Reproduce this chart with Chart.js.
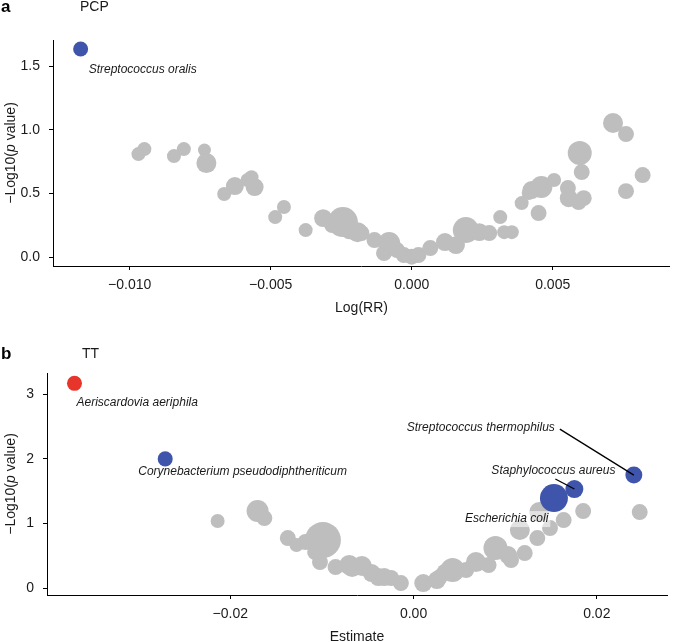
<!DOCTYPE html>
<html><head><meta charset="utf-8">
<script src="https://cdn.jsdelivr.net/npm/chart.js@4"></script>
<style>
html,body{margin:0;padding:0;background:#fff;}
#wrap{position:relative;width:685px;height:642px;background:#fff;}
canvas{position:absolute;left:0;top:0;}
</style>
</head><body>
<div id="wrap"><canvas id="c1" width="685" height="642"></canvas><canvas id="c2" width="685" height="642"></canvas></div>
<script>
// ---------- Panel a: PCP ----------
const pcpLogRR = [-0.00969,-0.00948,-0.00843,-0.00808,-0.00735,-0.00728,-0.00665,-0.00627,-0.00582,-0.00568,
  -0.00557,-0.00484,-0.00453,-0.00376,-0.00314,-0.00282,-0.00244,-0.0022,-0.00192,-0.00178,
  -0.00132,-0.0008,-0.00098,-0.00052,-0.00028,0.0,0.00024,0.00066,0.00118,0.00157,
  0.00192,0.0024,0.00275,0.00314,0.00328,0.00355,0.0039,0.00415,0.0045,0.00425,
  0.0046,0.00505,0.00554,0.00557,0.00592,0.0061,0.00596,0.00603,0.00714,0.0076,0.0076,0.00819];
const pcpNegLogP = [0.809,0.848,0.793,0.848,0.841,0.738,0.495,0.558,0.605,0.628,
  0.550,0.314,0.393,0.212,0.306,0.251,0.275,0.21,0.196,0.189,
  0.134,0.110,0.031,0.055,0.016,0.003,0.016,0.071,0.118,0.094,
  0.212,0.196,0.189,0.314,0.196,0.196,0.424,0.503,0.346,0.526,
  0.550,0.605,0.542,0.463,0.432,0.463,0.817,0.668,1.053,0.966,0.518,0.644];
const pcpAbundance = [1.0,1.0,1.0,1.0,0.86,2.04,1.0,1.65,1.0,1.0,
  1.65,1.0,1.0,1.0,1.65,1.3,4.6,1.65,2.04,1.3,
  1.3,2.47,1.3,1.3,1.3,1.3,1.3,1.3,1.65,1.65,
  3.45,1.65,1.3,1.0,1.0,1.0,1.0,1.0,1.3,1.65,
  2.47,1.0,1.3,1.65,1.3,1.3,2.94,1.3,2.04,1.3,1.3,1.3];
const pcpSigSpecies = ['Streptococcus oralis'];
const pcpSigLogRR = [-0.01174];
const pcpSigNegLogP = [1.634];
const pcpSigAbundance = [1.15];
const pcpSigStatus = ['nominal'];
const pcpXTicks = [-0.010,-0.005,0.000,0.005];
const pcpYTicks = [0.0,0.5,1.0,1.5];

// ---------- Panel b: TT ----------
const ttEstimate = [-0.02138,-0.01702,-0.01628,-0.01372,-0.01277,-0.01181,-0.00989,-0.01074,-0.01021,-0.00851,
  -0.00702,-0.0067,-0.00564,-0.00457,-0.00383,-0.00319,-0.00245,-0.00138,0.00106,0.00255,
  0.00287,0.0034,0.00426,0.00574,0.00681,0.00819,0.00894,0.01032,0.01064,0.01213,
  0.0116,0.01351,0.01372,0.01489,0.01638,0.01851,0.02468];
const ttNegLogP = [1.037,1.192,1.084,0.774,0.666,0.712,0.743,0.557,0.402,0.325,
  0.356,0.325,0.341,0.232,0.170,0.170,0.155,0.077,0.077,0.124,
  0.170,0.248,0.279,0.279,0.402,0.356,0.619,0.511,0.433,0.542,
  0.898,0.774,1.176,0.929,1.053,1.192,1.176];
const ttAbundance = [1.0,2.47,1.3,1.3,1.0,1.3,6.6,1.3,1.3,1.3,
  2.04,2.04,2.04,1.65,1.65,1.65,1.3,1.3,1.65,1.65,
  1.3,1.3,2.94,1.3,2.04,1.3,2.94,1.65,1.3,1.3,
  2.04,1.3,2.04,1.3,1.3,1.3,1.3];
const ttSigSpecies = ['Aeriscardovia aeriphila','Corynebacterium pseudodiphtheriticum','Streptococcus thermophilus','Staphylococcus aureus','Escherichia coli'];
const ttSigEstimate = [-0.0370,-0.0271,0.02404,0.01755,0.01532];
const ttSigNegLogP = [3.17,2.0,1.749,1.533,1.393];
const ttSigAbundance = [1.15,1.15,1.47,1.65,4.0];
const ttSigStatus = ['fdr','nominal','nominal','nominal','nominal'];
const ttXTicks = [-0.02,0.00,0.02];
const ttYTicks = [0,1,2,3];

// ---------- styles / layout ----------
const FONT = '"Liberation Sans", Arial, Helvetica, sans-serif';
const GREY = '#BEBEBE';
const STATUS_COLOR = {nominal:'#3F55AC', fdr:'#E8352B'};
const TEXT = '#1a1a1a';
const radiusOf = a => 7*Math.sqrt(a);
const minus = s => s.replace('-', '\u2212');

// label placement (pixel offsets from the point)
const labelLayout = {
  'Streptococcus oralis': {dx:8, dy:21, align:'left'},
  'Aeriscardovia aeriphila': {dx:2, dy:19, align:'left'},
  'Corynebacterium pseudodiphtheriticum': {dx:-27, dy:13, align:'left'},
  'Streptococcus thermophilus': {dx:-79, dy:-47, align:'right', line:[-74,-46]},
  'Staphylococcus aureus': {dx:-83, dy:-18, align:'left', line:[-19,-10]},
  'Escherichia coli': {dx:-89, dy:21, align:'left', bg:true}
};

function bubbles(xs, ys, sizes){ return xs.map((x,i)=>({x:x, y:ys[i], r:radiusOf(sizes[i])})); }

function axis(min, max, ticks, fmt, fixed, isX){
  return {
    type:'linear', min:min, max:max,
    afterBuildTicks: s => { s.ticks = ticks.map(v=>({value:v})); },
    afterFit: s => { if(isX) s.height = fixed; else s.width = fixed; },
    ticks:{ callback: v => fmt(v), font:{family:FONT, size:14}, color:TEXT, padding: isX?7:9, autoSkip:false, maxRotation:0 },
    grid:{ display:true, drawOnChartArea:false, drawTicks:true, tickLength:4, color:'#000', lineWidth:1 },
    border:{ display:true, color:'#000', width:1 },
    title:{ display:false }
  };
}

function drawYTitle(ctx, x, cy){
  const parts = [['\u2212Log10(', ''], ['p', 'italic '], [' value)', '']];
  ctx.save();
  ctx.translate(x, cy); ctx.rotate(-Math.PI/2);
  let total = 0;
  parts.forEach(p=>{ ctx.font = p[1]+'14px '+FONT; total += ctx.measureText(p[0]).width; });
  let cx = -total/2;
  ctx.fillStyle = TEXT; ctx.textBaseline = 'middle'; ctx.textAlign = 'left';
  parts.forEach(p=>{ ctx.font = p[1]+'14px '+FONT; ctx.fillText(p[0], cx, 0); cx += ctx.measureText(p[0]).width; });
  ctx.restore();
}

function makePlugin(opts){
  return {
    id:'annot_'+opts.key,
    afterDatasetDraw(chart, args){
      if(args.index !== 1) return;
      const ctx = chart.ctx, xs = chart.scales.x, ys = chart.scales.y;
      ctx.save();
      opts.species.forEach((sp,i)=>{
        const L = labelLayout[sp]; if(!L || !L.bg) return;
        const px = xs.getPixelForValue(opts.sx[i]), py = ys.getPixelForValue(opts.sy[i]);
        ctx.font = 'italic 12px '+FONT;
        const w = ctx.measureText(sp).width;
        const left = L.align==='right' ? px+L.dx-w : px+L.dx;
        ctx.fillStyle = 'rgba(255,255,255,0.55)';
        ctx.fillRect(left-2, py+L.dy-8, w+4, 16);
      });
      ctx.restore();
    },
    afterDatasetsDraw(chart){
      const ctx = chart.ctx, xs = chart.scales.x, ys = chart.scales.y;
      ctx.save();
      opts.species.forEach((sp,i)=>{
        const L = labelLayout[sp]; if(!L) return;
        const px = xs.getPixelForValue(opts.sx[i]), py = ys.getPixelForValue(opts.sy[i]);
        if(L.line){
          ctx.strokeStyle = '#000'; ctx.lineWidth = 1.3;
          ctx.beginPath(); ctx.moveTo(px+L.line[0], py+L.line[1]); ctx.lineTo(px, py); ctx.stroke();
        }
        ctx.font = 'italic 12px '+FONT;
        ctx.fillStyle = TEXT; ctx.textBaseline = 'middle';
        ctx.textAlign = L.align;
        ctx.fillText(sp, px+L.dx, py+L.dy);
      });
      ctx.restore();
    },
    afterDraw(chart){
      const ctx = chart.ctx, ca = chart.chartArea;
      ctx.save();
      ctx.fillStyle = '#000'; ctx.textBaseline = 'middle'; ctx.textAlign = 'left';
      ctx.font = 'bold 17px '+FONT;
      ctx.fillText(opts.letter, 1, opts.headerY);
      ctx.fillStyle = TEXT;
      ctx.font = '14px '+FONT;
      ctx.fillText(opts.title, opts.titleX, opts.headerY);
      ctx.textAlign = 'center';
      ctx.fillText(opts.xTitle, (ca.left+ca.right)/2, ca.bottom + opts.xTitleGap);
      ctx.restore();
      drawYTitle(ctx, 11, (ca.top+ca.bottom)/2);
    }
  };
}

function makeChart(id, o){
  return new Chart(document.getElementById(id), {
    type:'bubble',
    data:{ datasets:[
      { data: bubbles(o.sx, o.sy, o.ss), backgroundColor: o.status.map(s=>STATUS_COLOR[s]), borderWidth:0, hoverBorderWidth:0, clip:false },
      { data: bubbles(o.gx, o.gy, o.gs), backgroundColor: GREY, borderWidth:0, hoverBorderWidth:0, clip:false }
    ]},
    options:{
      responsive:false, animation:false, devicePixelRatio:1,
      events:[],
      layout:{ padding:o.padding },
      plugins:{ legend:{display:false}, tooltip:{enabled:false} },
      scales:{
        x: axis(o.xmin, o.xmax, o.xticks, o.xfmt, o.xAxisH, true),
        y: axis(o.ymin, o.ymax, o.yticks, o.yfmt, o.yAxisW, false)
      }
    },
    plugins:[ makePlugin({key:id, species:o.species, sx:o.sx, sy:o.sy, letter:o.letter, title:o.title, titleX:o.titleX, headerY:o.headerY, xTitle:o.xTitle, xTitleGap:o.xTitleGap}) ]
  });
}

makeChart('c1', {
  gx:pcpLogRR, gy:pcpNegLogP, gs:pcpAbundance,
  sx:pcpSigLogRR, sy:pcpSigNegLogP, ss:pcpSigAbundance, status:pcpSigStatus, species:pcpSigSpecies,
  xmin:-0.01272, xmax:0.00916, ymin:-0.07, ymax:1.705,
  xticks:pcpXTicks, yticks:pcpYTicks,
  xfmt: v => minus(v.toFixed(3)), yfmt: v => minus(v.toFixed(1)),
  padding:{top:40, left:0, right:4, bottom:336}, xAxisH:40, yAxisW:53,
  letter:'a', title:'PCP', titleX:80, headerY:7, xTitle:'Log(RR)', xTitleGap:42
});

makeChart('c2', {
  gx:ttEstimate, gy:ttNegLogP, gs:ttAbundance,
  sx:ttSigEstimate, sy:ttSigNegLogP, ss:ttSigAbundance, status:ttSigStatus, species:ttSigSpecies,
  xmin:-0.04, xmax:0.02766, ymin:-0.108, ymax:3.33,
  xticks:ttXTicks, yticks:ttYTicks,
  xfmt: v => minus(v.toFixed(2)), yfmt: v => minus(v.toFixed(0)),
  padding:{top:373, left:0, right:2, bottom:0}, xAxisH:47, yAxisW:47,
  letter:'b', title:'TT', titleX:82, headerY:354, xTitle:'Estimate', xTitleGap:42
});
</script>
</body></html>
